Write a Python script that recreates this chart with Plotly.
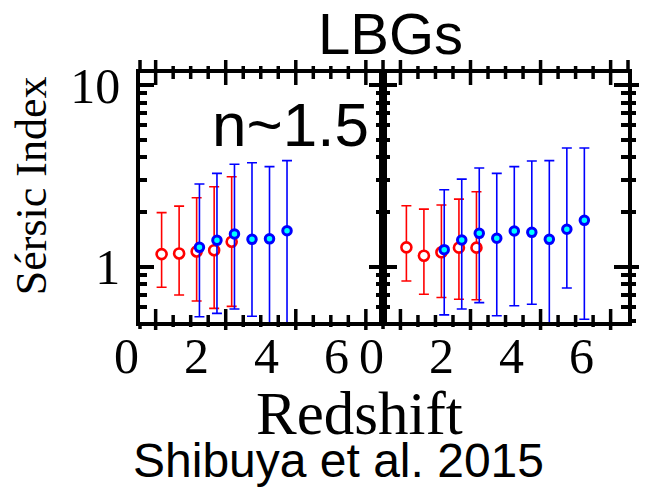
import math
import plotly.graph_objects as go

# ---------------- data ----------------
# Redshift bins (red: star-forming sample, blue: LBG sample)
red_z = [1.0, 1.5, 2.0, 2.5, 3.0]
blue_z_left = [2.08, 2.58, 3.08, 3.58, 4.08, 4.58]
blue_z_right = [2.08, 2.58, 3.08, 3.58, 4.08, 4.58, 5.08, 5.58, 6.08]

# Left panel: median Sersic index with upper / lower ends of the spread
left_red_n = [1.17, 1.18, 1.21, 1.23, 1.37]
left_red_hi = [1.98, 2.15, 2.39, 2.75, 3.12]
left_red_lo = [0.768, 0.697, 0.645, 0.588, 0.603]

left_blue_n = [1.275, 1.393, 1.51, 1.411, 1.42, 1.574]
left_blue_hi = [2.85, 3.26, 3.66, 3.73, 3.55, 3.83]
left_blue_lo = [0.529, 0.552, 0.583, 0.532, 0.45, 0.45]

# Right panel
right_red_n = [1.275, 1.147, 1.197, 1.27, 1.27]
right_red_hi = [2.16, 2.07, 2.18, 2.35, 2.58]
right_red_lo = [0.832, 0.703, 0.675, 0.66, 0.656]

right_blue_n = [1.238, 1.40, 1.523, 1.43, 1.569, 1.543, 1.411, 1.603, 1.796]
right_blue_hi = [2.65, 3.03, 3.49, 3.26, 3.55, 3.81, 3.83, 4.50, 4.50]
right_blue_lo = [0.541, 0.583, 0.632, 0.535, 0.608, 0.619, 0.45, 0.761, 0.512]

REF_N = 1.4  # reference Sersic index (dashed line)

x_tick_labels = ["0", "2", "4", "6"]
x_label_vals = [0, 2, 4, 6]
x_major_ticks = [0.83, 2.83, 4.83, 6.83]
x_minor_ticks = [1.33, 1.83, 2.33, 3.33, 3.83, 4.33, 5.33, 5.83, 6.33]
y_tick_vals = [1, 10]
y_tick_labels = ["1", "10"]
y_minor_vals = [0.5, 0.6, 0.7, 0.8, 0.9, 2, 3, 4, 5, 6, 7, 8, 9]

# ---------------- geometry ----------------
W, H = 648, 487
ML, MR, MT, MB = 140, 10, 73, 165
PW = W - ML - MR
PH = H - MT - MB
Y_BOT, Y_TOP = H - MB, MT


def px(x):
    return (x - ML) / PW


def py(y):
    return (H - MB - y) / PH


Z_PX = 35.75          # pixels per unit redshift
ZERO_L = 126.3        # pixel where z=0 sits in the left panel
ZERO_R = 376.1        # same for the right panel
X_L0, X_MID, X_R1 = 140, 388, 638


def zrange(p0, p1, zero):
    return [(p0 - zero) / Z_PX, (p1 - zero) / Z_PX]


def zpix(zero, val):
    return zero + val * Z_PX


rng_left = zrange(X_L0, X_MID, ZERO_L)
rng_right = zrange(X_MID, X_R1, ZERO_R)

Y_RANGE = [-0.3058, 1.0661]

SERIF = "Liberation Serif"
SANS = "Liberation Sans"

RED = "#ff0000"
BLUE = "#0000ff"
CYAN = "#00ffff"

fig = go.Figure()


def errs(n, hi, lo):
    return [h - v for v, h in zip(n, hi)], [v - l for v, l in zip(n, lo)]


def add_red(z, n, hi, lo, xa, ya):
    up, dn = errs(n, hi, lo)
    fig.add_trace(go.Scatter(
        x=z, y=n, mode="markers", xaxis=xa, yaxis=ya, showlegend=False,
        marker=dict(symbol="circle", size=10, color="white",
                    line=dict(color=RED, width=2.6)),
        error_y=dict(type="data", symmetric=False, array=up, arrayminus=dn,
                     color=RED, thickness=1.6, width=5),
    ))


def add_blue(z, n, hi, lo, xa, ya):
    up, dn = errs(n, hi, lo)
    fig.add_trace(go.Scatter(
        x=z, y=n, mode="markers", xaxis=xa, yaxis=ya, showlegend=False,
        marker=dict(symbol="circle", size=8.5, color=CYAN,
                    line=dict(color=BLUE, width=3)),
        error_y=dict(type="data", symmetric=False, array=up, arrayminus=dn,
                     color=BLUE, thickness=1.6, width=5),
    ))


add_red(red_z, left_red_n, left_red_hi, left_red_lo, "x", "y")
add_blue(blue_z_left, left_blue_n, left_blue_hi, left_blue_lo, "x", "y")
add_red(red_z, right_red_n, right_red_hi, right_red_lo, "x2", "y2")
add_blue(blue_z_right, right_blue_n, right_blue_hi, right_blue_lo, "x2", "y2")

# empty trace so the outer-tick overlay on the right edge is drawn
fig.add_trace(go.Scatter(x=[], y=[], xaxis="x2", yaxis="y3",
                         showlegend=False, hoverinfo="skip"))

LW = 3.5
TW = 3.5

base_x = dict(
    ticks="", showline=True, linewidth=LW, linecolor="black", mirror=True,
    showgrid=False, zeroline=False, showticklabels=False,
)

base_y = dict(
    type="log", range=Y_RANGE, tickmode="array",
    tickvals=y_tick_vals, ticktext=y_tick_labels, ticks="inside",
    ticklen=14, tickwidth=TW, tickcolor="black", showline=True,
    linewidth=LW, linecolor="black", mirror="ticks", showgrid=False,
    zeroline=False,
    minor=dict(tickmode="array", tickvals=y_minor_vals, ticks="inside",
               ticklen=7, tickwidth=TW, tickcolor="black"),
)

fig.update_layout(
    width=W, height=H,
    margin=dict(l=ML, r=MR, t=MT, b=MB, pad=0),
    paper_bgcolor="white", plot_bgcolor="white",
    showlegend=False,
    xaxis=dict(base_x, domain=[0, px(X_MID)], range=rng_left, anchor="y"),
    xaxis2=dict(base_x, domain=[px(X_MID), 1.0], range=rng_right, anchor="y2"),
    yaxis=dict(base_y, anchor="x", showticklabels=True,
               tickfont=dict(family=SERIF, size=50, color="black"),
               ticklabelstandoff=6),
    yaxis2=dict(base_y, anchor="x2", showticklabels=False),
    yaxis3=dict(
        type="log", range=Y_RANGE, overlaying="y2", side="right", anchor="x2",
        tickmode="array", tickvals=y_tick_vals, ticks="outside", ticklen=10,
        tickwidth=TW, tickcolor="black", showline=False, showgrid=False,
        zeroline=False, showticklabels=False,
        minor=dict(tickmode="array", tickvals=y_minor_vals, ticks="outside",
                   ticklen=7, tickwidth=TW, tickcolor="black"),
    ),
)


def vseg(xpix, y_from, y_to):
    """Short vertical frame tick, given in figure pixels."""
    fig.add_shape(type="line", xref="paper", yref="paper",
                  x0=px(xpix), x1=px(xpix), y0=py(y_from), y1=py(y_to),
                  line=dict(color="black", width=TW), layer="above")


# redshift tick marks crossing the bottom and top frame lines
for zero in (ZERO_L, ZERO_R):
    for v in x_major_ticks:
        xp = zpix(zero, v)
        vseg(xp, Y_BOT + 8, Y_BOT - 13)
        vseg(xp, Y_TOP + 12, Y_TOP - 13)
    for v in x_minor_ticks:
        xp = zpix(zero, v)
        vseg(xp, Y_BOT + 5, Y_BOT - 7)
        vseg(xp, Y_TOP + 6, Y_TOP - 7)

# frame edges poking past the top / bottom lines
for xp in (X_L0, X_MID, X_R1):
    vseg(xp, Y_TOP, Y_TOP - 13)
for xp in (X_L0, X_MID):
    vseg(xp, Y_BOT, Y_BOT + 7)

# dashed reference level across both panels
fig.add_shape(type="line", xref="paper", yref="y",
              x0=0, x1=px(W), y0=math.log10(REF_N), y1=math.log10(REF_N),
              line=dict(color="#808080", width=2, dash="8px,5px"), layer="below")

# redshift tick labels of both panels
for zero in (ZERO_L, ZERO_R):
    for val, txt in zip(x_label_vals, x_tick_labels):
        fig.add_annotation(text=txt, xref="paper", yref="paper",
                           x=px(zpix(zero, val)), y=py(356),
                           xanchor="center", yanchor="middle", showarrow=False,
                           font=dict(family=SERIF, size=50, color="black"))

fig.add_annotation(text="LBGs", xref="paper", yref="paper",
                   x=px(396), y=py(33), xanchor="center", yanchor="middle",
                   showarrow=False, font=dict(family=SANS, size=58, color="black"))
fig.add_annotation(text="n~1.5", xref="paper", yref="paper",
                   x=px(294), y=py(124.5), xanchor="center", yanchor="middle",
                   showarrow=False, font=dict(family=SANS, size=62, color="black"))
fig.add_annotation(text="Sérsic Index", xref="paper", yref="paper",
                   x=px(29), y=py(186), xanchor="center", yanchor="middle",
                   textangle=-90, showarrow=False,
                   font=dict(family=SERIF, size=44, color="black"))
fig.add_annotation(text="Redshift", xref="paper", yref="paper",
                   x=px(364), y=py(413), xanchor="center", yanchor="middle",
                   showarrow=False, font=dict(family=SERIF, size=61, color="black"))
fig.add_annotation(text="Shibuya et al. 2015", xref="paper", yref="paper",
                   x=px(343), y=py(461), xanchor="center", yanchor="middle",
                   showarrow=False, font=dict(family=SANS, size=48, color="black"))

fig.write_html("out.html")
